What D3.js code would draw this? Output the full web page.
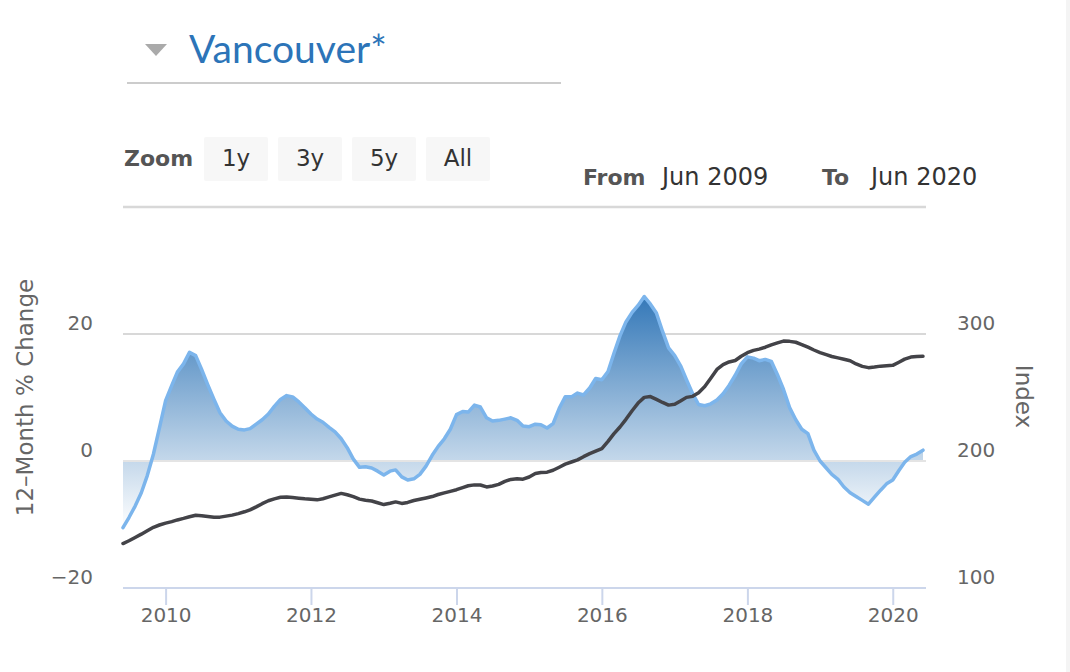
<!DOCTYPE html>
<html>
<head>
<meta charset="utf-8">
<script src="https://cdn.jsdelivr.net/npm/d3@7"></script>
<style>
  html, body { margin: 0; padding: 0; background: #fff; }
  svg { display: block; }
</style>
</head>
<body>
<svg id="chart" width="1070" height="672"></svg>
<script>
// ---------- DATA ----------
const titleText = "Vancouver*";
const startMonth = "2009-06";          // first monthly observation
const pctChange = [
  -10.5, -8.9, -7.1, -5.0, -2.3, 1.1, 5.2, 9.5, 11.9, 14.0, 15.3, 17.1,
  16.6, 14.4, 12.0, 9.7, 7.6, 6.3, 5.5, 5.0, 4.9, 5.1, 5.8, 6.5,
  7.4, 8.6, 9.7, 10.3, 10.1, 9.3, 8.4, 7.4, 6.6, 6.1, 5.3, 4.6,
  3.5, 2.1, 0.3, -1.0, -0.9, -1.1, -1.6, -2.2, -1.6, -1.4, -2.5, -3.0,
  -2.8, -2.1, -0.8, 0.9, 2.3, 3.5, 5.0, 7.3, 7.8, 7.7, 8.8, 8.5,
  6.8, 6.3, 6.4, 6.6, 6.8, 6.4, 5.5, 5.4, 5.8, 5.7, 5.2, 5.9,
  8.3, 10.1, 10.1, 10.7, 10.4, 11.5, 13.0, 12.8, 14.1, 16.9, 19.7, 21.9,
  23.4, 24.5, 25.9, 24.7, 23.3, 20.4, 17.8, 16.6, 14.9, 12.8, 10.6, 8.9,
  8.7, 9.0, 9.6, 10.6, 11.9, 13.5, 15.3, 16.4, 16.2, 15.8, 16.0, 15.7,
  13.6, 11.3, 8.4, 6.5, 5.0, 4.3, 1.7, 0.0, -1.1, -2.1, -2.9, -4.1,
  -5.0, -5.6, -6.2, -6.8, -5.7, -4.6, -3.6, -3.0, -1.5, -0.2, 0.7, 1.1,
  1.7
];
const indexValues = [
  135.0, 137.2, 139.8, 142.4, 145.1, 147.8, 149.6, 151.1, 152.3, 153.6, 154.8, 156.1,
  157.3, 156.9, 156.3, 155.7, 155.8, 156.6, 157.4, 158.6, 160.0, 161.5, 163.9, 166.4,
  168.7, 170.2, 171.4, 171.6, 171.2, 170.7, 170.2, 169.8, 169.4, 170.3, 171.7, 173.1,
  174.5, 173.4, 171.9, 170.0, 169.1, 168.5, 167.1, 165.7, 166.7, 167.8, 166.6, 167.4,
  168.9, 169.9, 170.9, 172.0, 173.6, 174.9, 176.1, 177.4, 179.1, 180.5, 181.2, 181.1,
  179.6, 180.3, 181.6, 184.0, 185.5, 186.0, 185.7, 187.4, 190.2, 191.0, 191.2, 192.7,
  195.1, 197.5, 199.2, 200.9, 203.4, 205.8, 207.8, 209.8, 215.5, 221.4, 226.8, 232.8,
  239.6, 245.6, 250.1, 250.7, 248.5, 246.1, 244.0, 244.6, 247.4, 250.1, 250.9, 253.8,
  258.6, 265.1, 272.1, 275.9, 278.0, 279.1, 282.5, 285.3, 287.1, 288.1, 289.6, 291.4,
  293.0, 294.4, 294.2, 293.5, 291.7, 289.6, 287.4, 285.4, 283.8, 282.3, 281.2, 280.1,
  278.9, 276.4, 274.5, 273.5, 274.0, 274.7, 275.0, 275.3, 277.8, 280.2, 281.8, 282.3,
  282.5
];
const yearTicks = [2010, 2012, 2014, 2016, 2018, 2020];
const leftTicks = [-20, 0, 20];
const leftGrid = [40, 20, 0];
const rightTicks = [100, 200, 300];
const zoomButtons = ["1y", "3y", "5y", "All"];
const rangeFrom = "Jun 2009";
const rangeTo = "Jun 2020";
const leftAxisTitle = "12\u2013Month % Change";
const rightAxisTitle = "Index";

// ---------- BUILD ----------
const parseMonth = d3.timeParse("%Y-%m");
const t0 = parseMonth(startMonth);
const dates = pctChange.map((_, i) => d3.timeMonth.offset(t0, i));
const data = dates.map((d, i) => ({ date: d, pct: pctChange[i], idx: indexValues[i] }));

const svg = d3.select("#chart");
const FONT = "'DejaVu Sans', Verdana, sans-serif";

const plot = { left: 123, right: 926, top: 207, bottom: 588 };
const x = d3.scaleTime().domain([dates[0], dates[dates.length - 1]]).range([123, 923]);
const yL = d3.scaleLinear().domain([-20, 40]).range([plot.bottom, plot.top]);
const yR = d3.scaleLinear().domain([100, 400]).range([plot.bottom, plot.top]);

// background
svg.append("rect").attr("width", 1070).attr("height", 672).attr("fill", "#fff");
svg.append("rect").attr("x", 1066).attr("y", 0).attr("width", 4).attr("height", 672).attr("fill", "#f4f4f4");

// ---------- header ----------
svg.append("path")
  .attr("d", "M145,44 L167,44 L156,56 Z")
  .attr("fill", "#aaaaaa");
svg.append("text")
  .attr("x", 189).attr("y", 63)
  .attr("font-family", "Lato, 'Open Sans', sans-serif")
  .attr("font-size", 39)
  .attr("fill", "#2c74b8")
  .text(titleText);
svg.append("line")
  .attr("x1", 127).attr("x2", 561).attr("y1", 83).attr("y2", 83)
  .attr("stroke", "#cccccc").attr("stroke-width", 2);

// range selector
svg.append("text")
  .attr("x", 124).attr("y", 166)
  .attr("font-family", FONT).attr("font-size", 22).attr("font-weight", "bold")
  .attr("fill", "#555").text("Zoom");
const btn = svg.append("g").selectAll("g").data(zoomButtons).join("g")
  .attr("transform", (d, i) => `translate(${204 + i * 74},137)`);
btn.append("rect").attr("width", 64).attr("height", 44).attr("rx", 2).attr("fill", "#f7f7f7");
btn.append("text").attr("x", 32).attr("y", 29).attr("text-anchor", "middle")
  .attr("font-family", FONT).attr("font-size", 23).attr("fill", "#333").text(d => d);

svg.append("text").attr("x", 583).attr("y", 185)
  .attr("font-family", FONT).attr("font-size", 22).attr("font-weight", "bold")
  .attr("fill", "#555").text("From");
svg.append("text").attr("x", 662).attr("y", 185)
  .attr("font-family", FONT).attr("font-size", 24).attr("fill", "#333").text(rangeFrom);
svg.append("text").attr("x", 822).attr("y", 185)
  .attr("font-family", FONT).attr("font-size", 22).attr("font-weight", "bold")
  .attr("fill", "#555").text("To");
svg.append("text").attr("x", 871).attr("y", 185)
  .attr("font-family", FONT).attr("font-size", 24).attr("fill", "#333").text(rangeTo);

// ---------- grid ----------
svg.append("g").selectAll("line").data(leftGrid).join("line")
  .attr("x1", plot.left).attr("x2", plot.right)
  .attr("y1", d => yL(d)).attr("y2", d => yL(d))
  .attr("stroke", "#d8d8d8").attr("stroke-width", d => d === 40 ? 2.5 : 2);

// ---------- area ----------
const defs = svg.append("defs");
const grad = defs.append("linearGradient").attr("id", "areaGrad")
  .attr("gradientUnits", "userSpaceOnUse")
  .attr("x1", 0).attr("x2", 0)
  .attr("y1", yL(d3.max(pctChange))).attr("y2", yL(d3.min(pctChange)));
grad.append("stop").attr("offset", 0).attr("stop-color", "#3478b8");
grad.append("stop").attr("offset", 1).attr("stop-color", "#ffffff");

const area = d3.area().x(d => x(d.date)).y0(yL(0)).y1(d => yL(d.pct));
svg.append("path").datum(data).attr("d", area).attr("fill", "url(#areaGrad)");

// zero line over area
svg.append("line")
  .attr("x1", plot.left).attr("x2", plot.right)
  .attr("y1", yL(0)).attr("y2", yL(0))
  .attr("stroke", "#e4e4e4").attr("stroke-width", 2);

// blue line
const linePct = d3.line().x(d => x(d.date)).y(d => yL(d.pct));
svg.append("path").datum(data).attr("d", linePct)
  .attr("fill", "none").attr("stroke", "#7cb5ec").attr("stroke-width", 3.5)
  .attr("stroke-linejoin", "round").attr("stroke-linecap", "round");

// index line
const lineIdx = d3.line().x(d => x(d.date)).y(d => yR(d.idx));
svg.append("path").datum(data).attr("d", lineIdx)
  .attr("fill", "none").attr("stroke", "#434348").attr("stroke-width", 3.5)
  .attr("stroke-linejoin", "round").attr("stroke-linecap", "round");

// ---------- x axis ----------
const tickDates = yearTicks.map(y => new Date(y, 0, 1));
const xAxis = d3.axisBottom(x).tickValues(tickDates).tickSize(17).tickPadding(3)
  .tickFormat(d3.timeFormat("%Y"));
const gx = svg.append("g").attr("transform", `translate(0,${plot.bottom})`).call(xAxis);
gx.select(".domain").remove();
gx.selectAll(".tick line").attr("stroke", "#ccd6eb").attr("stroke-width", 2);
gx.selectAll(".tick text").attr("font-family", FONT).attr("font-size", 20)
  .attr("fill", "#666").attr("dy", "0.71em");
svg.append("line")
  .attr("x1", plot.left).attr("x2", plot.right)
  .attr("y1", plot.bottom).attr("y2", plot.bottom)
  .attr("stroke", "#ccd6eb").attr("stroke-width", 2);

// ---------- y axes ----------
const yAxisL = d3.axisLeft(yL).tickValues(leftTicks).tickSize(0).tickPadding(0)
  .tickFormat(d => d < 0 ? "\u2212" + Math.abs(d) : d);
const gyl = svg.append("g").attr("transform", "translate(93,0)").call(yAxisL);
gyl.select(".domain").remove();
gyl.selectAll(".tick text").attr("font-family", FONT).attr("font-size", 20)
  .attr("fill", "#666").attr("dy", -5);

const yAxisR = d3.axisRight(yR).tickValues(rightTicks).tickSize(0).tickPadding(0);
const gyr = svg.append("g").attr("transform", "translate(957,0)").call(yAxisR);
gyr.select(".domain").remove();
gyr.selectAll(".tick text").attr("font-family", FONT).attr("font-size", 20)
  .attr("fill", "#666").attr("dy", -5);

svg.append("text")
  .attr("transform", `translate(33,${(280 + 515) / 2}) rotate(-90)`)
  .attr("text-anchor", "middle")
  .attr("font-family", FONT).attr("font-size", 23).attr("fill", "#666")
  .text(leftAxisTitle);
svg.append("text")
  .attr("transform", `translate(1016,${(365 + 428) / 2}) rotate(90)`)
  .attr("text-anchor", "middle")
  .attr("font-family", FONT).attr("font-size", 23).attr("fill", "#666")
  .text(rightAxisTitle);
</script>
</body>
</html>
